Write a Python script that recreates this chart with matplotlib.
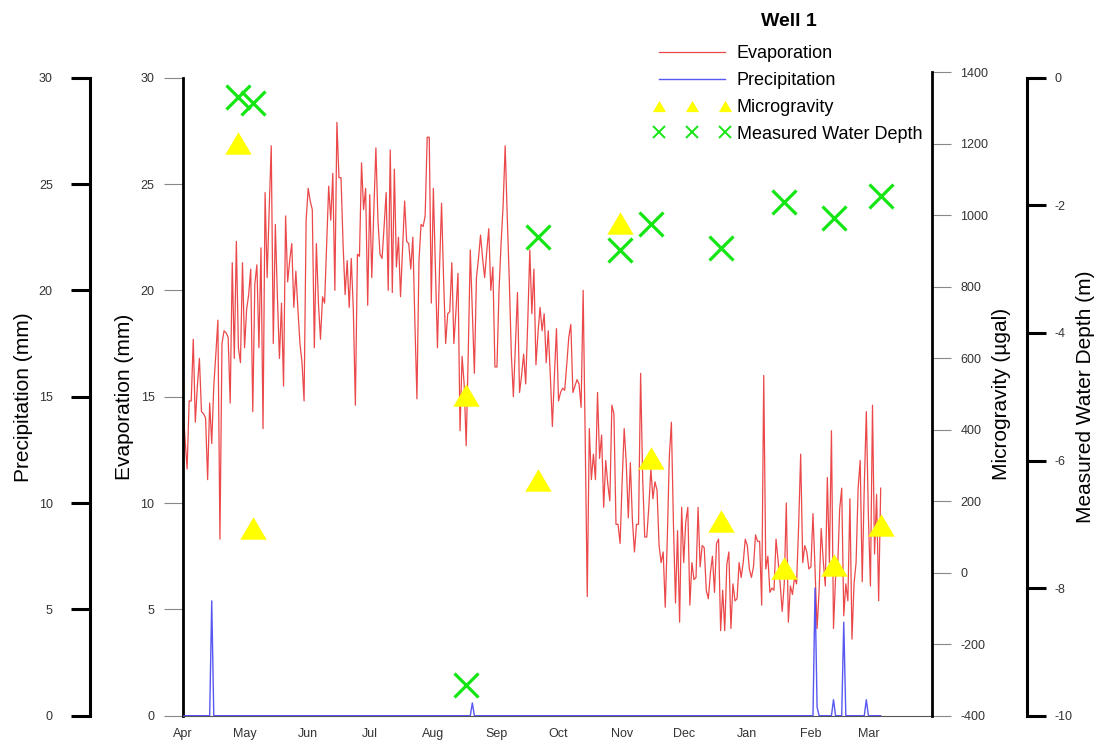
import numpy as np
import matplotlib
matplotlib.use('Agg')
import matplotlib.pyplot as plt

plt.rcParams['font.family'] = ['Liberation Sans', 'DejaVu Sans']
plt.rcParams['axes.unicode_minus'] = False

# daily evaporation (mm), 1 Apr onwards
evaporation = [
    14.5, 13.0, 11.6, 14.8, 14.8, 17.7, 13.8, 15.5, 16.8, 14.3,
    14.2, 14.0, 11.1, 14.7, 12.8, 15.5, 17.0, 18.6, 8.3, 17.5,
    18.1, 18.0, 17.8, 14.7, 21.3, 16.8, 22.3, 17.3, 16.6, 21.3,
    17.3, 19.1, 19.8, 21.0, 14.3, 20.3, 21.2, 17.3, 22.0, 13.5,
    24.6, 20.6, 23.8, 26.8, 17.5, 23.1, 19.7, 16.8, 19.4, 15.5,
    23.5, 20.4, 21.4, 22.2, 19.2, 20.9, 19.1, 17.5, 16.6, 14.8,
    23.3, 24.8, 24.2, 23.8, 17.3, 22.2, 19.4, 17.7, 19.7, 19.4,
    22.2, 24.9, 23.3, 25.5, 20.0, 27.9, 25.3, 25.3, 22.2, 19.8,
    21.4, 19.2, 21.5, 19.1, 14.6, 21.7, 21.6, 26.0, 23.8, 24.8,
    19.3, 24.5, 20.6, 23.8, 26.7, 23.3, 21.7, 21.5, 23.0, 24.6,
    20.0, 26.6, 19.9, 25.7, 21.1, 22.5, 19.7, 22.0, 24.2, 22.3,
    22.2, 21.0, 22.5, 18.5, 14.9, 21.4, 23.1, 23.0, 23.5, 27.2,
    27.2, 19.4, 24.8, 21.0, 17.3, 21.0, 24.1, 20.5, 17.5, 18.9,
    19.0, 21.3, 17.5, 19.0, 20.8, 13.4, 16.9, 15.6, 12.7, 17.0,
    21.9, 19.0, 16.1, 20.6, 21.5, 22.6, 21.5, 20.6, 21.8, 22.9,
    20.0, 21.1, 16.4, 16.4, 20.0, 22.2, 24.0, 26.8, 23.5, 20.5,
    17.0, 15.0, 17.5, 19.9, 15.2, 16.0, 17.0, 15.6, 18.5, 21.9,
    18.9, 21.0, 16.5, 18.0, 19.2, 18.1, 18.9, 16.6, 18.1, 16.0,
    13.6, 16.0, 18.2, 14.8, 15.2, 15.4, 15.3, 16.5, 17.8, 18.4,
    15.2, 15.5, 15.8, 15.6, 14.5, 20.0, 13.0, 5.6, 13.5, 11.1,
    12.3, 11.1, 15.2, 12.1, 13.2, 9.8, 12.0, 10.9, 10.1, 14.6,
    14.2, 9.0, 9.0, 8.1, 11.0, 13.5, 11.9, 9.3, 11.9, 9.2,
    7.7, 9.0, 9.0, 16.1, 11.2, 8.4, 8.4, 9.8, 11.6, 10.2,
    11.0, 10.6, 8.0, 7.2, 7.7, 5.1, 8.3, 12.2, 13.8, 9.0,
    5.3, 8.7, 4.4, 9.8, 7.2, 9.1, 9.8, 5.2, 7.2, 6.4,
    6.5, 9.8, 7.0, 8.0, 7.9, 5.9, 5.5, 6.7, 7.5, 5.8,
    8.1, 8.3, 4.0, 5.9, 4.0, 7.1, 7.7, 4.1, 6.2, 5.4,
    5.5, 7.2, 6.5, 7.2, 8.3, 8.0, 6.9, 6.5, 7.0, 8.5,
    8.2, 8.2, 5.2, 16.0, 6.9, 7.5, 5.8, 6.0, 5.9, 8.3,
    7.3, 6.2, 4.9, 6.2, 10.0, 4.4, 6.1, 5.7, 6.5, 6.2,
    8.9, 12.3, 7.2, 8.0, 7.7, 6.9, 7.0, 9.5, 6.9, 4.1,
    5.9, 8.8, 7.3, 6.1, 11.2, 7.2, 13.4, 4.1, 6.5, 6.9,
    9.7, 10.7, 4.7, 6.2, 5.4, 10.2, 3.6, 6.2, 7.2, 10.7,
    12.0, 6.3, 10.8, 14.3, 9.4, 6.1, 14.6, 7.6, 10.4, 5.4, 10.7,
]

# rain days (days after 1 Apr) and amounts (mm); all other days are 0
rain_days = [14, 141, 308, 309, 317, 322, 333]
rain_mm = [5.4, 0.6, 6.0, 0.4, 0.75, 4.4, 0.75]

# survey days (days after 1 Apr)
survey_days = [27, 34, 138, 173, 213, 228, 262, 293, 317, 340]
microgravity = [1203, 124, 497, 260, 979, 321, 146, 13, 22, 134]
water_depth = [-0.30, -0.39, -9.52, -2.50, -2.70, -2.30, -2.67, -1.95, -2.20, -1.85]

month_labels = ['Apr', 'May', 'Jun', 'Jul', 'Aug', 'Sep',
                'Oct', 'Nov', 'Dec', 'Jan', 'Feb', 'Mar']

start = np.datetime64('2018-04-01')
end = np.datetime64('2019-04-01')
dates = start + np.arange(len(evaporation))

precipitation = np.zeros(len(evaporation))
precipitation[rain_days] = rain_mm

survey_dates = start + np.array(survey_days)
month_starts = np.arange('2018-04', '2019-04', dtype='datetime64[M]').astype('datetime64[D]')

fig = plt.figure(figsize=(11.01, 7.40), dpi=100)
W, H = 1101.0, 740.0
left, right, top, bottom = 183, 932, 77.7, 715.7
rect = [left / W, 1 - bottom / H, (right - left) / W, (bottom - top) / H]
ax = fig.add_axes(rect)

tick_kw = dict(labelsize=9, labelcolor='#333333')
label_fs = 15

# evaporation
l_evap, = ax.plot(dates, evaporation, color='#e8282a', lw=0.9, alpha=0.85, label='Evaporation')
ax.set_xlim(start, end)
ax.set_ylim(0, 30)
ax.set_yticks(range(0, 31, 5))
ax.set_xticks(month_starts)
ax.set_xticklabels(month_labels)
ax.tick_params(axis='x', length=0, pad=8.5, **tick_kw)
ax.tick_params(axis='y', length=13.5, width=0.8, color='#888888', pad=7, **tick_kw)
for s in ['top', 'right']:
    ax.spines[s].set_visible(False)
ax.spines['left'].set_linewidth(2)
ax.spines['bottom'].set_linewidth(0.8)
ax.spines['bottom'].set_color('#555555')
ax.set_ylabel('Evaporation (mm)', fontsize=label_fs)
ax.yaxis.set_label_coords(-0.0654, 0.5)

# precipitation on outer left axis
ax_p = ax.twinx()
for s in ax_p.spines.values():
    s.set_visible(False)
ax_p.yaxis.tick_left()
ax_p.yaxis.set_label_position('left')
ax_p.spines['left'].set_visible(True)
ax_p.spines['left'].set_position(('outward', 67.3))
ax_p.spines['left'].set_linewidth(2.2)
l_prec, = ax_p.plot(dates, precipitation, color='#3a3af0', lw=1.0, alpha=0.85, label='Precipitation')
ax_p.set_ylim(0, 30)
ax_p.set_yticks(range(0, 31, 5))
ax_p.tick_params(axis='y', length=13.5, width=2.2, color='black', pad=13, **tick_kw)
ax_p.set_ylabel('Precipitation (mm)', fontsize=label_fs)
ax_p.yaxis.set_label_coords(-0.2003, 0.5)

# microgravity: its scale sits a few pixels higher than the others
top_m = 72.3
rect_m = [left / W, 1 - bottom / H, (right - left) / W, (bottom - top_m) / H]
ax_m = fig.add_axes(rect_m, sharex=ax)
ax_m.patch.set_visible(False)
for s in ax_m.spines.values():
    s.set_visible(False)
ax_m.spines['right'].set_visible(True)
ax_m.spines['right'].set_linewidth(2)
ax_m.xaxis.set_visible(False)
ax_m.yaxis.tick_right()
ax_m.yaxis.set_label_position('right')
tri = [(-1, -0.85), (1, -0.85), (0, 0.85)]
l_mg, = ax_m.plot(survey_dates, microgravity, ls='none', marker=tri, ms=19,
                  color='#ffff00', mec='none', label='Microgravity')
ax_m.set_ylim(-400, 1400)
ax_m.set_yticks(range(-400, 1401, 200))
ax_m.tick_params(axis='y', length=13.5, width=0.8, color='#888888', pad=7, **tick_kw)
ax_m.set_ylabel('Microgravity (µgal)', fontsize=label_fs)
ax_m.yaxis.set_label_coords(1.080, 0.5)

# measured water depth on outer right axis
ax_d = ax.twinx()
for s in ax_d.spines.values():
    s.set_visible(False)
ax_d.spines['right'].set_visible(True)
ax_d.spines['right'].set_position(('outward', 68.4))
ax_d.spines['right'].set_linewidth(2.2)
l_wd, = ax_d.plot(survey_dates, water_depth, ls='none', marker='x', ms=17, mew=2.3,
                  color='#14e614', label='Measured Water Depth')
ax_d.set_ylim(-10, 0)
ax_d.set_yticks(range(-10, 1, 2))
ax_d.tick_params(axis='y', length=13.5, width=2.2, color='black', pad=6.5, **tick_kw)
ax_d.set_ylabel('Measured Water Depth (m)', fontsize=label_fs)
ax_d.yaxis.set_label_coords(1.192, 0.5)

fig.text(789 / W, 1 - 21 / H, 'Well 1', fontsize=14, fontweight='bold', ha='center', va='center')

leg = fig.legend([l_evap, l_prec, l_mg, l_wd],
                 ['Evaporation', 'Precipitation', 'Microgravity', 'Measured Water Depth'],
                 loc='upper left', bbox_to_anchor=(653.3 / W, 1 - 45 / H),
                 frameon=False, fontsize=13, handlelength=4.25, handletextpad=0.37,
                 labelspacing=0.55, numpoints=3, markerscale=0.5,
                 borderpad=0, borderaxespad=0)
# thinner crosses in the legend, as in the source figure
leg.legend_handles[3].set_markeredgewidth(1.4)

fig.savefig('out.png', dpi=100)
